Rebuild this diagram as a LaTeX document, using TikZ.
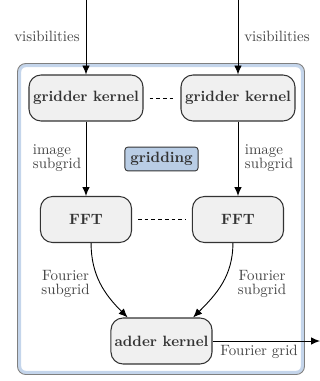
\documentclass[tikz,border=0pt]{standalone}
\usetikzlibrary{arrows.meta}
\definecolor{boxfill}{HTML}{F0F0F0}
\definecolor{boxline}{HTML}{333333}
\definecolor{frameblue}{HTML}{C4D5EB}
\definecolor{framegray}{HTML}{7F7F7F}
\definecolor{tagblue}{HTML}{B9CDE5}
\definecolor{labeltext}{HTML}{444444}
\begin{document}
\begin{tikzpicture}[x=0.67pt,y=-0.67pt,
  kernel/.style={draw=boxline, fill=boxfill, line width=0.7pt, rounded corners=8pt,
    minimum height=30.8pt, font=\bfseries, text=boxline, inner sep=2pt},
  tag/.style={draw=boxline, fill=tagblue, line width=0.6pt, rounded corners=2pt,
    minimum width=49pt, minimum height=16pt, font=\bfseries, text=boxline, inner sep=2pt},
  flow/.style={-{Latex[length=6pt,width=5pt]}, line width=0.6pt},
  lbl/.style={text=labeltext, inner sep=0pt},
  link/.style={dash pattern=on 2.5pt off 2pt, line width=0.5pt, shorten <=4pt, shorten >=4pt}]
\useasboundingbox (0,0) rectangle (320,381);
% outer frame: light blue band inside a grey outline
\draw[frameblue, line width=2.2pt, rounded corners=4pt] (19.6,65.6) rectangle (302.4,372.4);
\draw[framegray, line width=0.6pt, rounded corners=5.5pt] (17.5,63.5) rectangle (304.5,374.5);

% processing stages
\node[kernel, minimum width=76.4pt] (gk1) at (86,98) {gridder kernel};
\node[kernel, minimum width=76.4pt] (gk2) at (238,98) {gridder kernel};
\node[kernel, minimum width=61pt] (fft1) at (86,219.5) {FFT};
\node[kernel, minimum width=61pt] (fft2) at (238,219.5) {FFT};
\node[kernel, minimum width=67.7pt] (add) at (161.5,341) {adder kernel};
\node[tag] (grid) at (161.5,159) {gridding};

% inputs
\coordinate (in1) at (86,0);
\coordinate (in2) at (238,0);
\coordinate (out) at (320,341);
\draw[flow] (in1) -- (gk1);
\draw[flow] (in2) -- (gk2);
\node[lbl] (vis1) at (47,36) {visibilities};
\node[lbl] (vis2) at (277,36) {visibilities};

% gridder to FFT
\draw[flow] (gk1) -- (fft1);
\draw[flow] (gk2) -- (fft2);
\node[lbl, align=left] (img1) at (57,158) {image\\[-3pt]subgrid};
\node[lbl, align=left] (img2) at (269,158) {image\\[-3pt]subgrid};

% parallel lanes
\draw[link] (gk1) -- (gk2);
\draw[link] (fft1) -- (fft2);

% FFT to adder
\draw[flow] ([xshift=3.4pt]fft1.south) to[out=-90, in=135] ([xshift=11.5pt]add.north west);
\draw[flow] ([xshift=-3.4pt]fft2.south) to[out=-90, in=45] ([xshift=-13pt]add.north east);
\node[lbl, align=center] (fs1) at (65.5,283.5) {Fourier\\[-2.6pt]subgrid};
\node[lbl, align=center] (fs2) at (262,283.5) {Fourier\\[-2.6pt]subgrid};

% output
\draw[flow] (add) -- (out);
\node[lbl] (fg) at (259,352) {Fourier grid};
\end{tikzpicture}
\end{document}
